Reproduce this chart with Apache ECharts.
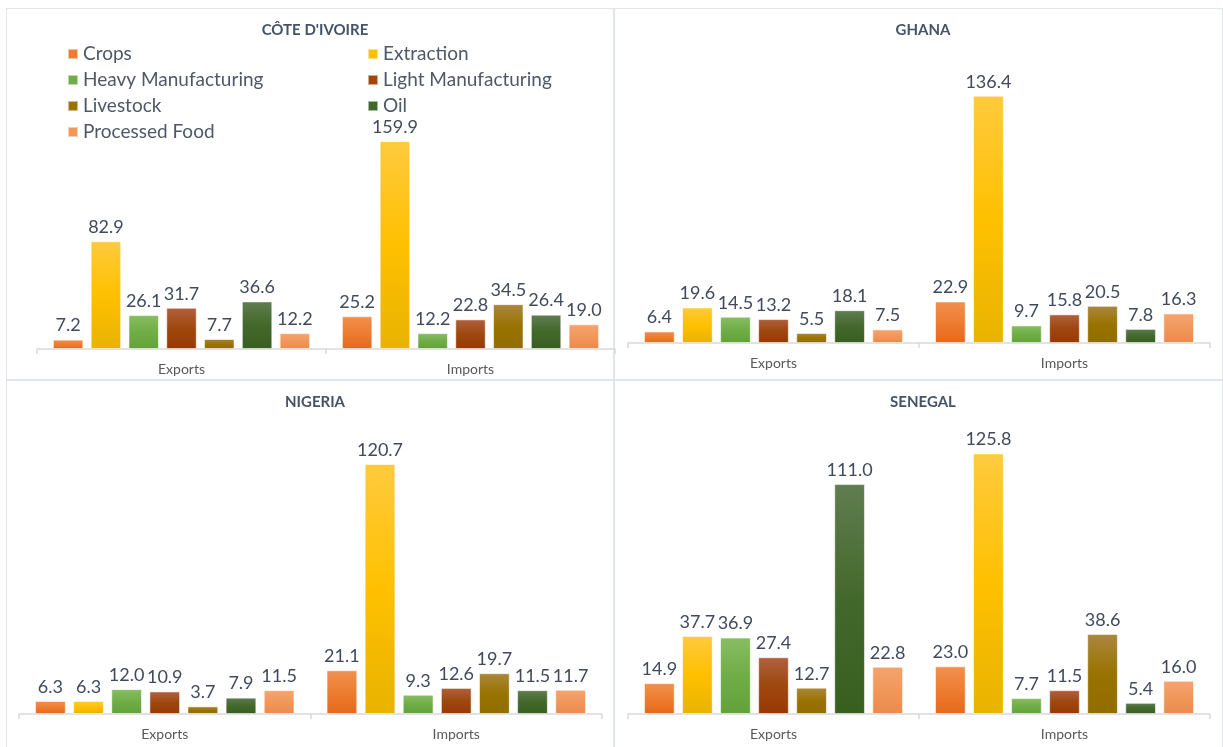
<!DOCTYPE html>
<html>
<head>
<meta charset="utf-8">
<script src="https://cdn.jsdelivr.net/npm/echarts@6/dist/echarts.min.js"></script>
<style>
  html, body { margin: 0; padding: 0; background: #fff; }
  #wrap { position: relative; width: 1223px; height: 747px; }
  .panel { position: absolute; border: 1.5px solid #e1e5ec; box-sizing: border-box; }
  #main { position: absolute; left: 0; top: 0; width: 1223px; height: 747px; }
</style>
</head>
<body>
<div id="wrap">
  <div class="panel" style="left:6px;top:8px;width:609px;height:373px;"></div>
  <div class="panel" style="left:613px;top:8px;width:610px;height:373px;"></div>
  <div class="panel" style="left:6px;top:379px;width:609px;height:380px;"></div>
  <div class="panel" style="left:613px;top:379px;width:610px;height:380px;"></div>
  <div id="main"></div>
</div>
<script>
// sectors and flows
const sectors = ['Crops', 'Extraction', 'Heavy Manufacturing', 'Light Manufacturing', 'Livestock', 'Oil', 'Processed Food'];
const flows = ['Exports', 'Imports'];
const countries = ["CÔTE D'IVOIRE", 'GHANA', 'NIGERIA', 'SENEGAL'];

// values per sector, same order as sectors
const coteExports = [7.2, 82.9, 26.1, 31.7, 7.7, 36.6, 12.2];
const coteImports = [25.2, 159.9, 12.2, 22.8, 34.5, 26.4, 19.0];
const ghanaExports = [6.4, 19.6, 14.5, 13.2, 5.5, 18.1, 7.5];
const ghanaImports = [22.9, 136.4, 9.7, 15.8, 20.5, 7.8, 16.3];
const nigeriaExports = [6.3, 6.3, 12.0, 10.9, 3.7, 7.9, 11.5];
const nigeriaImports = [21.1, 120.7, 9.3, 12.6, 19.7, 11.5, 11.7];
const senegalExports = [14.9, 37.7, 36.9, 27.4, 12.7, 111.0, 22.8];
const senegalImports = [23.0, 125.8, 7.7, 11.5, 38.6, 5.4, 16.0];

const panelData = [
  [coteExports, coteImports],
  [ghanaExports, ghanaImports],
  [nigeriaExports, nigeriaImports],
  [senegalExports, senegalImports]
];

// colours: solid (legend), gradient top / bottom
const baseColors = ['#ed7d31', '#ffc000', '#70ad47', '#9e480e', '#997300', '#43682b', '#f1975a'];
const topColors = ['#f2904f', '#ffca3e', '#88be62', '#b0603f', '#aa873f', '#607d50', '#f5a46f'];
const bottomColors = ['#e6681b', '#e8b300', '#62a23a', '#973803', '#916d00', '#385e20', '#eb8a4d'];

const textColor = '#404a5c';

// layout of each panel (page px)
const grids = [
  { left: 37, right: 608, top: 115, bottom: 398 },
  { left: 628, right: 13, top: 53, bottom: 404 },
  { left: 19, right: 621, top: 424, bottom: 33 },
  { left: 628, right: 13, top: 424, bottom: 33 }
];
const yMax = [180, 160, 140, 140];
const titlePos = [[310, 18], [918, 18], [310, 390], [918, 390]];

const chart = echarts.init(document.getElementById('main'));

const series = [];
panelData.forEach(function (pd, p) {
  sectors.forEach(function (name, s) {
    series.push({
      name: name,
      type: 'bar',
      xAxisIndex: p,
      yAxisIndex: p,
      barCategoryGap: '11%',
      barGap: '24%',
      data: [pd[0][s], pd[1][s]],
      itemStyle: {
        color: new echarts.graphic.LinearGradient(0, 0, 0, 1, [
          { offset: 0, color: topColors[s] },
          { offset: 0.5, color: baseColors[s] },
          { offset: 1, color: bottomColors[s] }
        ]),
        borderColor: 'rgba(255,255,255,0.55)',
        borderWidth: 1
      },
      label: {
        show: true,
        position: 'top',
        distance: 5,
        fontFamily: 'Lato',
        fontSize: 18,
        color: textColor,
        formatter: function (d) { return d.value.toFixed(1); }
      }
    });
  });
});

const legendLeft = [sectors[0], sectors[2], sectors[4], sectors[6]];
const legendRight = [sectors[1], sectors[3], sectors[5]];
function legendItems(names) {
  return names.map(function (n) {
    return { name: n, itemStyle: { color: baseColors[sectors.indexOf(n)] } };
  });
}
const legendCommon = {
  orient: 'vertical',
  top: 44,
  padding: 0,
  icon: 'rect',
  itemWidth: 10,
  itemHeight: 10,
  itemGap: 6,
  selectedMode: false,
  textStyle: { fontFamily: 'Lato', fontSize: 19, color: '#4e5868', lineHeight: 20 }
};

chart.setOption({
  animation: false,
  title: countries.map(function (c, i) {
    return {
      text: c,
      left: titlePos[i][0],
      top: titlePos[i][1],
      textAlign: 'center',
      textStyle: { fontFamily: 'Lato', fontSize: 15, fontWeight: 'bold', color: '#44546a' }
    };
  }),
  legend: [
    Object.assign({ left: 67, data: legendItems(legendLeft) }, legendCommon),
    Object.assign({ left: 367, data: legendItems(legendRight) }, legendCommon)
  ],
  grid: grids,
  xAxis: grids.map(function (g, i) {
    return {
      type: 'category',
      gridIndex: i,
      data: flows,
      axisLine: { lineStyle: { color: '#d9d9d9', width: 1.5 } },
      axisTick: { show: true, length: 5, lineStyle: { color: '#d9d9d9', width: 1.5 } },
      axisLabel: { margin: 13, fontFamily: 'Lato', fontSize: 14, color: '#595959' }
    };
  }),
  yAxis: grids.map(function (g, i) {
    return {
      type: 'value',
      gridIndex: i,
      min: 0,
      max: yMax[i],
      show: false,
      splitLine: { show: false }
    };
  }),
  series: series
});
</script>
</body>
</html>
